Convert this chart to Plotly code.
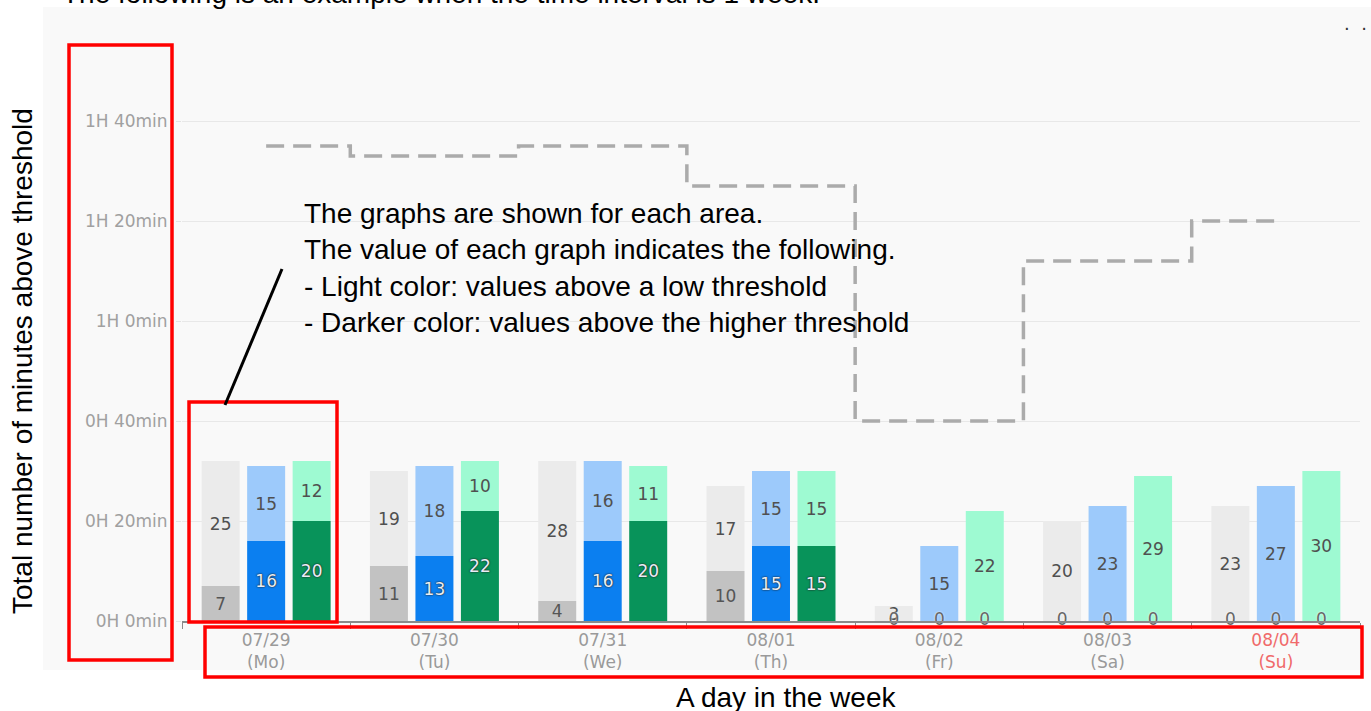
import plotly.graph_objects as go

# ---------------- data ----------------
dates = ["07/29", "07/30", "07/31", "08/01", "08/02", "08/03", "08/04"]
weekdays = ["Mo", "Tu", "We", "Th", "Fr", "Sa", "Su"]

gray_high = [7, 11, 4, 10, 0, 0, 0]
gray_low = [25, 19, 28, 17, 3, 20, 23]
blue_high = [16, 13, 16, 15, 0, 0, 0]
blue_low = [15, 18, 16, 15, 15, 23, 27]
green_high = [20, 22, 20, 15, 0, 0, 0]
green_low = [12, 10, 11, 15, 22, 29, 30]
threshold = [95, 93, 95, 87, 40, 72, 80]

y_tick_vals = [0, 20, 40, 60, 80, 100]
y_tick_text = ["0H 0min", "0H 20min", "0H 40min", "1H 0min", "1H 20min", "1H 40min"]

callout_lines = [
    "The graphs are shown for each area.",
    "The value of each graph indicates the following.",
    "- Light color: values above a low threshold",
    "- Darker color: values above the higher threshold",
]

# ---------------- layout geometry ----------------
W_FIG, H_FIG = 1371, 711
ML, MR, MT, MB = 182, 11, 71, 90
PW = W_FIG - ML - MR
PH = H_FIG - MT - MB


def px(x):
    return (x - ML) / PW


def py(y):
    return (H_FIG - MB - y) / PH


CHART_FONT = "DejaVu Sans"
TEXT_FONT = "Liberation Sans, Arial"
BARGAP = 0.189

series = [
    ("gray", gray_high, gray_low, "#c2c2c2", "#ebebeb", False),
    ("blue", blue_high, blue_low, "#0b7ff0", "#9dcafb", True),
    ("green", green_high, green_low, "#08935a", "#9efad2", True),
]

fig = go.Figure()

for name, high, low, dark, light, halo in series:
    if halo:
        dark_font = dict(family=CHART_FONT, size=17, color="#e8eef6",
                         shadow="0px 0px 2px #222, 0px 0px 1px #222")
    else:
        dark_font = dict(family=CHART_FONT, size=17, color="#555555")
    fig.add_trace(go.Bar(
        x=dates, y=high, offsetgroup=name, marker=dict(color=dark, line=dict(width=0)),
        text=[str(v) if v else "" for v in high], textposition="inside",
        insidetextanchor="middle", textangle=0, constraintext="none",
        textfont=dark_font, hoverinfo="skip", showlegend=False,
    ))
    fig.add_trace(go.Bar(
        x=dates, y=low, base=high, offsetgroup=name,
        marker=dict(color=light, line=dict(width=0)),
        text=[str(v) for v in low], textposition="inside",
        insidetextanchor="middle", textangle=0, constraintext="none",
        textfont=dict(family=CHART_FONT, size=17, color="#505050"),
        hoverinfo="skip", showlegend=False,
    ))

# zero labels for empty dark segments
for name, high, low, dark, light, halo in series:
    fig.add_trace(go.Scatter(
        x=dates, y=[0] * len(dates), mode="text", offsetgroup=name,
        text=["0" if v == 0 else "" for v in high],
        textposition="middle center",
        textfont=dict(family=CHART_FONT, size=17, color="#666666",
                      shadow="0px 0px 2px #ffffff"),
        cliponaxis=False, hoverinfo="skip", showlegend=False,
    ))

# threshold step line (middle offset group -> category centre)
fig.add_trace(go.Scatter(
    x=dates, y=threshold, mode="lines", offsetgroup="blue",
    line=dict(color="#ababab", width=3.5, dash="18px,9px", shape="hvh"),
    hoverinfo="skip", showlegend=False,
))

tick_text = []
for d, w in zip(dates, weekdays):
    if w == "Su":
        tick_text.append(f"<span style='color:#f06a6a'>{d}<br>({w})</span>")
    else:
        tick_text.append(f"{d}<br>({w})")

shapes = [
    # chart panel background
    dict(type="rect", xref="paper", yref="paper", x0=px(43), x1=px(1371), y0=py(670), y1=py(7),
         fillcolor="#f9f9f9", line=dict(width=0), layer="below"),
    # red highlight boxes
    dict(type="rect", xref="paper", yref="paper", x0=px(69), x1=px(172), y0=py(660), y1=py(45),
         line=dict(color="#ff0000", width=3.5), fillcolor="rgba(0,0,0,0)", layer="above"),
    dict(type="rect", xref="paper", yref="paper", x0=px(189), x1=px(337), y0=py(622), y1=py(402),
         line=dict(color="#ff0000", width=3.5), fillcolor="rgba(0,0,0,0)", layer="above"),
    dict(type="rect", xref="paper", yref="paper", x0=px(205), x1=px(1362), y0=py(677), y1=py(627),
         line=dict(color="#ff0000", width=3.5), fillcolor="rgba(0,0,0,0)", layer="above"),
    # callout pointer
    dict(type="line", xref="paper", yref="paper", x0=px(282), y0=py(269), x1=px(225), y1=py(405),
         line=dict(color="#000000", width=3), layer="above"),
]

annotations = [
    dict(xref="paper", yref="paper", x=px(302), y=py(268), xanchor="left", yanchor="middle",
         align="left", showarrow=False, text="<br>".join(callout_lines),
         font=dict(family=TEXT_FONT, size=28, color="#000000")),
    dict(xref="paper", yref="paper", x=px(22), y=py(361), xanchor="center", yanchor="middle",
         textangle=-90, showarrow=False, text="Total number of minutes above threshold",
         font=dict(family=TEXT_FONT, size=28, color="#000000")),
    dict(xref="paper", yref="paper", x=px(786), y=py(697), xanchor="center", yanchor="middle",
         showarrow=False, text="A day in the week",
         font=dict(family=TEXT_FONT, size=28, color="#000000")),
    dict(xref="paper", yref="paper", x=px(60), y=py(11), xanchor="left", yanchor="bottom",
         showarrow=False, text="The following is an example when the time interval is 1 week.",
         font=dict(family=TEXT_FONT, size=28, color="#000000")),
    dict(xref="paper", yref="paper", x=px(1355), y=py(29), xanchor="center", yanchor="middle",
         showarrow=False, text="·  ·", font=dict(family=CHART_FONT, size=18, color="#333333")),
]

fig.update_layout(
    template="none",
    width=W_FIG, height=H_FIG,
    margin=dict(l=ML, r=MR, t=MT, b=MB, autoexpand=False),
    paper_bgcolor="#ffffff",
    plot_bgcolor="rgba(0,0,0,0)",
    barmode="group", bargap=BARGAP, bargroupgap=0.165,
    scattermode="group", scattergap=BARGAP,
    showlegend=False,
    shapes=shapes,
    annotations=annotations,
    xaxis=dict(
        type="category", categoryorder="array", categoryarray=dates,
        tickvals=dates, ticktext=tick_text, tickson="boundaries",
        ticks="outside", ticklen=6, tickcolor="#8a8a8a", tickwidth=1.2,
        showline=True, linecolor="#8a8a8a", linewidth=1.5,
        showgrid=False, zeroline=False, automargin=False,
        tickfont=dict(family=CHART_FONT, size=17, color="#9a9a9a"),
        ticklabelstandoff=3,
        range=[-0.5, len(dates) - 0.5],
    ),
    yaxis=dict(
        range=[0, 110], tickvals=y_tick_vals, ticktext=y_tick_text,
        ticks="outside", ticklen=5, tickcolor="#e2e2e2",
        showgrid=True, gridcolor="#e8e8e8", gridwidth=1,
        showline=False, zeroline=False, automargin=False,
        tickfont=dict(family=CHART_FONT, size=17, color="#a0a0a0"),
        ticklabelstandoff=5,
    ),
)

fig.write_html(
    "out.html",
    config={"displayModeBar": False},
    post_script="document.body.style.margin='0';document.body.style.overflow='hidden';",
)
